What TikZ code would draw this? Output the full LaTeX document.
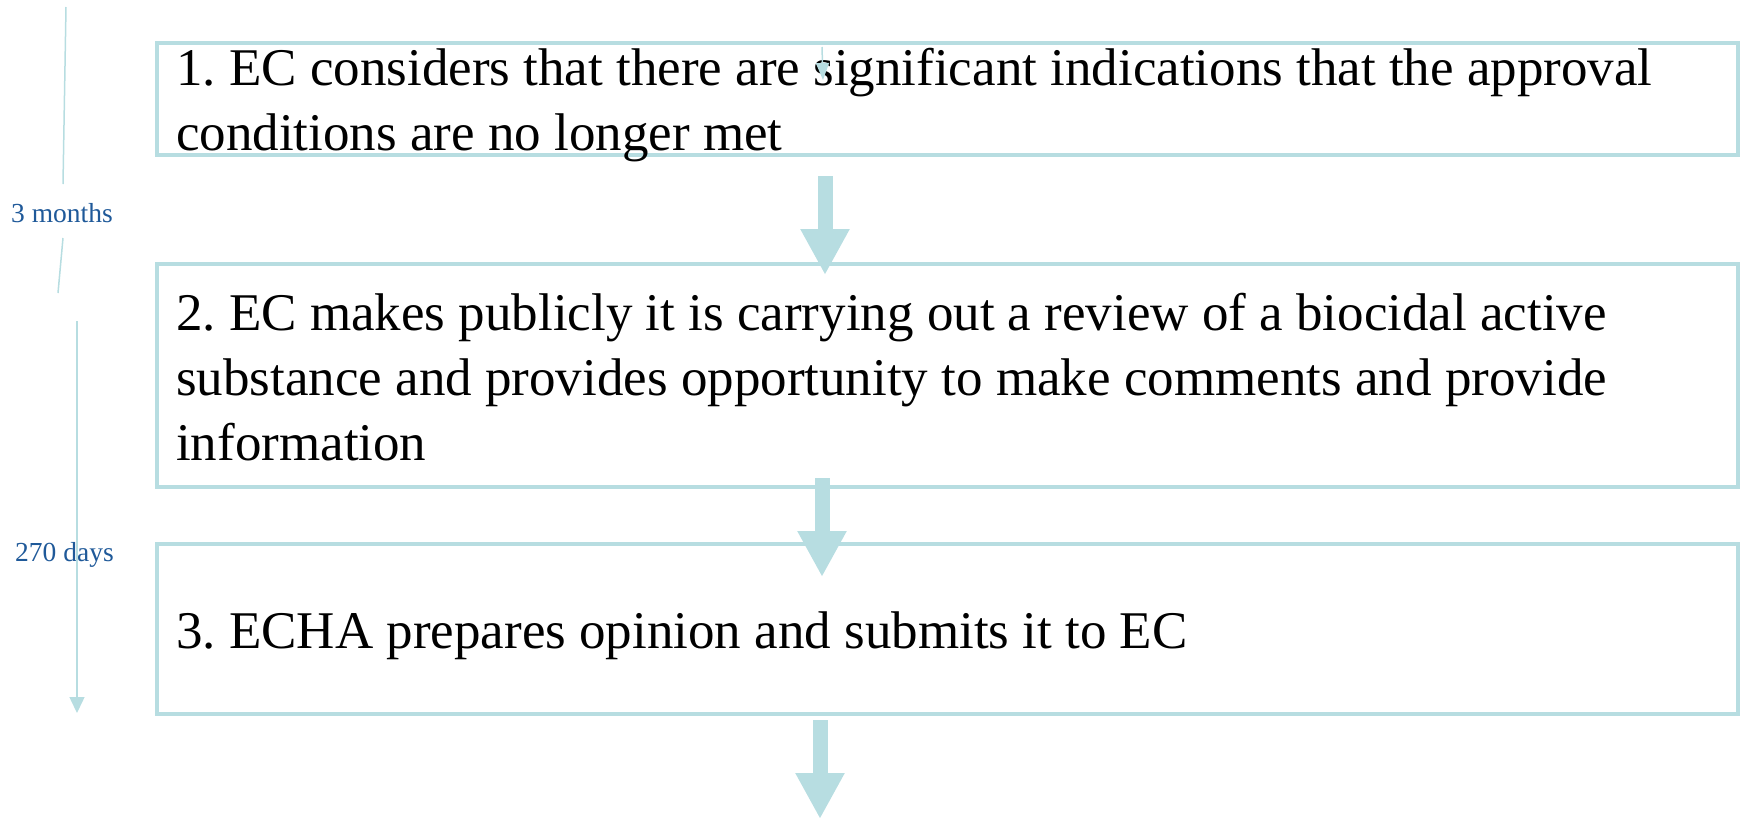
\documentclass[tikz,border=0pt]{standalone}
\usepackage{fontspec}
\setmainfont{Liberation Serif}
\usetikzlibrary{arrows.meta}
\definecolor{tealline}{RGB}{183,221,225}
\definecolor{lblblue}{RGB}{31,89,153}
\frenchspacing
\begin{document}
\begin{tikzpicture}[x=1pt,y=-1pt,
  stepbox/.style={draw=tealline, line width=4pt, minimum width=1581pt, inner sep=0pt},
  steptext/.style={anchor=base west, inner sep=0pt, align=left, font=\fontsize{53}{65}\selectfont},
  bigarrow/.style={draw=tealline, line width=15pt, -{Triangle[width=46pt,length=46pt]}},
  thinline/.style={draw=tealline, line width=1.5pt},
  thinarrow/.style={draw=tealline, line width=1.5pt, -{Triangle[width=15pt,length=16pt]}},
  timelabel/.style={anchor=base, inner sep=0pt, text=lblblue, font=\fontsize{27.5}{30}\selectfont}
]
\useasboundingbox (0,0) rectangle (1747,817);

% boxes
\node[stepbox, minimum height=112pt] (b1) at (947.5,99) {};
\node[stepbox, minimum height=223pt] (b2) at (947.5,375.5) {};
\node[stepbox, minimum height=170pt] (b3) at (947.5,629) {};

% texts (anchor at the baseline of the last line)
\node[steptext] (t1) at (176,150) {1. EC considers that there are significant indications that the approval\\conditions are no longer met};
\node[steptext] (t2) at (176,460) {2. EC makes publicly it is carrying out a review of a biocidal active\\substance and provides opportunity to make comments and provide\\information};
\node[steptext] (t3) at (176,648) {3. ECHA prepares opinion and submits it to EC};

% big arrows
\coordinate (a1s) at (825,176);
\coordinate (a1e) at (825,275);
\coordinate (a2s) at (822,478);
\coordinate (a2e) at (822,577);
\coordinate (a3s) at (820,720);
\coordinate (a3e) at (820,819);
\draw[bigarrow] (a1s) -- (a1e);
\draw[bigarrow] (a2s) -- (a2e);
\draw[bigarrow] (a3s) -- (a3e);

% small arrow inside box 1
\coordinate (s1) at (822,47);
\coordinate (s2) at (823,80);
\draw[thinarrow, -{Triangle[width=13pt,length=17pt]}] (s1) -- (s2);

% timeline 1
\node[timelabel] (m3) at (62,222) {3 months};
\coordinate (l1a) at (66,7);
\coordinate (l1b) at (63,184);
\coordinate (l1c) at (63,238);
\coordinate (l1d) at (58,293);
\draw[thinline] (l1a) -- (l1b);
\draw[thinline] (l1c) -- (l1d);

% timeline 2
\node[timelabel] (d270) at (64.5,561) {270 days};
\coordinate (l2a) at (77,321);
\coordinate (l2b) at (77,713);
\draw[thinarrow] (l2a) -- (l2b);
\end{tikzpicture}
\end{document}
